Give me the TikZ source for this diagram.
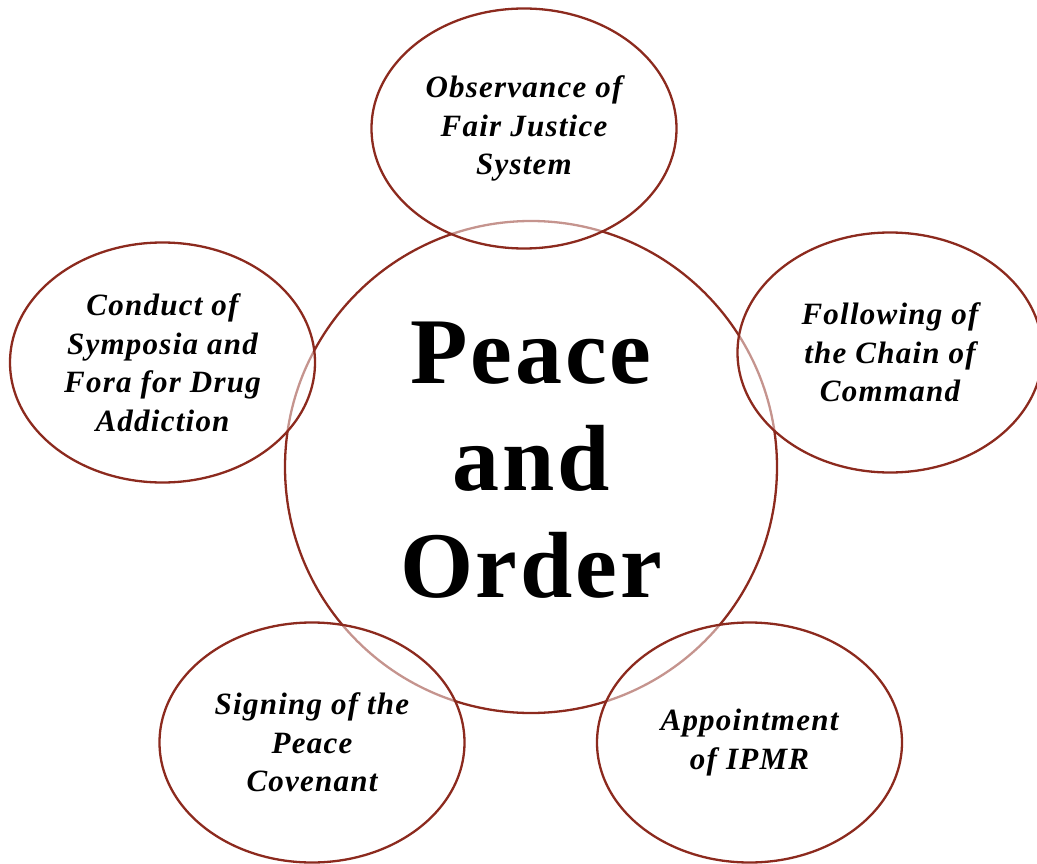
\documentclass[tikz,border=0pt]{standalone}
\usepackage{fontspec}
\setmainfont{Liberation Serif}
\usetikzlibrary{shapes.geometric}
\definecolor{ring}{RGB}{140,42,30}
\tikzset{
  hub/.style={circle, draw=ring, line width=2.3pt, fill=white, minimum size=492pt, inner sep=0pt},
  hubtext/.style={align=center, inner sep=0pt,
    font=\fontsize{94}{107}\selectfont\bfseries\addfontfeature{LetterSpace=3}},
  petal/.style={ellipse, draw=ring, line width=2.3pt, fill=white, fill opacity=0.5, draw opacity=1,
    text opacity=1, minimum width=305pt, minimum height=240pt, inner sep=0pt, align=center,
    font=\fontsize{31}{38.5}\selectfont\bfseries\itshape\addfontfeature{LetterSpace=4}}
}
\begin{document}
\begin{tikzpicture}[x=1pt,y=-1pt]
\useasboundingbox (0,0) rectangle (1037,864);
\node[hub] (hub) at (531,467) {};
\node[hubtext] (hubtext) at ([yshift=7pt]hub.center) {Peace\\and\\Order};
\node[petal] (top) at (524,128.5) {Observance of\\Fair Justice\\System};
\node[petal] (right) at (890,352.5) {Following of\\the Chain of\\Command};
\node[petal] (left) at (162.5,362.5) {Conduct of\\Symposia and\\Fora for Drug\\Addiction};
\node[petal] (bl) at (312,742.5) {Signing of the\\Peace\\Covenant};
\node[petal] (br) at (749.5,742.5) {Appointment\\of IPMR};
\end{tikzpicture}
\end{document}
